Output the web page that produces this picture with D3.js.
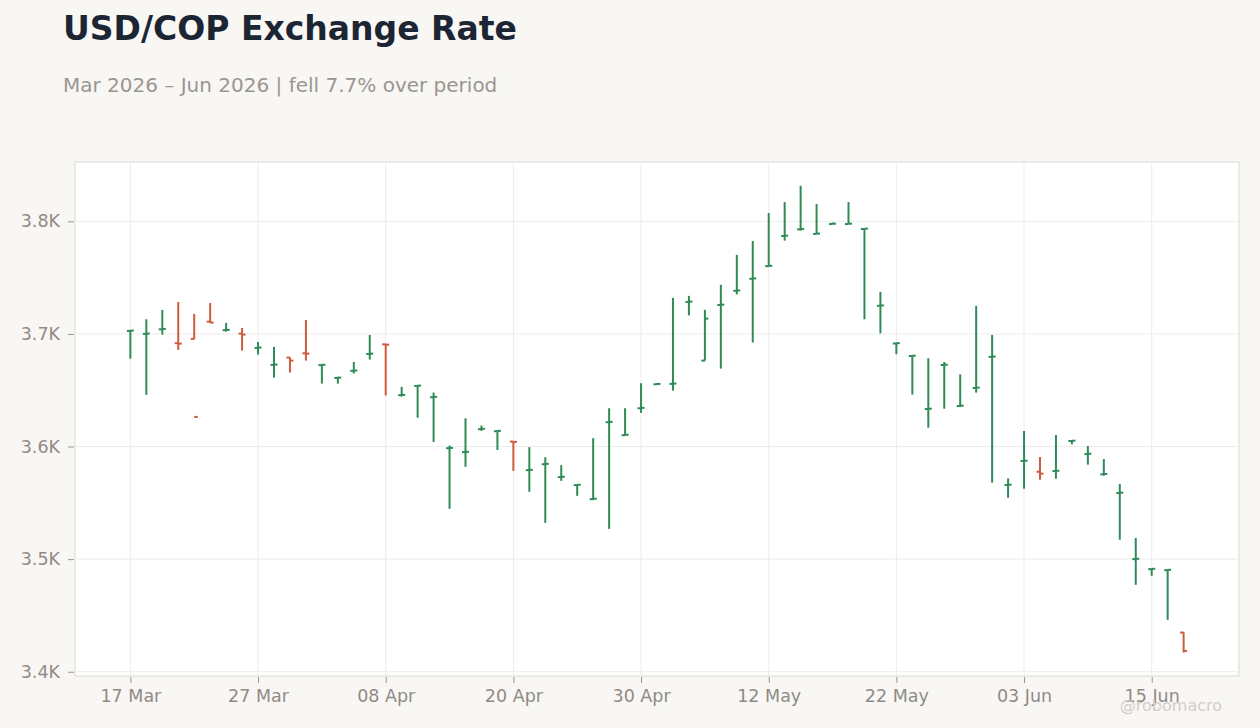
<!DOCTYPE html>
<html>
<head>
<meta charset="utf-8">
<script src="https://cdn.jsdelivr.net/npm/d3@7"></script>
<style>
  body { margin: 0; background: #f8f7f4; font-family: "DejaVu Sans", sans-serif; }
  #chart svg { display: block; }
</style>
</head>
<body>
<div id="chart"></div>
<script>
// trading days (business days, no holidays)
const dates = [
    "2026-03-17", "2026-03-18", "2026-03-19", "2026-03-20", "2026-03-23", "2026-03-24", "2026-03-25",
    "2026-03-26", "2026-03-27", "2026-03-30", "2026-03-31", "2026-04-01", "2026-04-02", "2026-04-03",
    "2026-04-06", "2026-04-07", "2026-04-08", "2026-04-09", "2026-04-10", "2026-04-13", "2026-04-14",
    "2026-04-15", "2026-04-16", "2026-04-17", "2026-04-20", "2026-04-21", "2026-04-22", "2026-04-23",
    "2026-04-24", "2026-04-27", "2026-04-28", "2026-04-29", "2026-04-30", "2026-05-01", "2026-05-04",
    "2026-05-05", "2026-05-06", "2026-05-07", "2026-05-08", "2026-05-11", "2026-05-12", "2026-05-13",
    "2026-05-14", "2026-05-15", "2026-05-18", "2026-05-19", "2026-05-20", "2026-05-21", "2026-05-22",
    "2026-05-25", "2026-05-26", "2026-05-27", "2026-05-28", "2026-05-29", "2026-06-01", "2026-06-02",
    "2026-06-03", "2026-06-04", "2026-06-05", "2026-06-08", "2026-06-09", "2026-06-10", "2026-06-11",
    "2026-06-12", "2026-06-15", "2026-06-16", "2026-06-17"
];

const open = [
    3702.7, 3700.0, 3704.1, 3691.8, 3695.6, 3710.9, 3703.3, 3700.3, 3687.6, 3672.5,
    3679.0, 3682.8, 3672.3, 3660.9, 3667.2, 3682.2, 3690.8, 3645.6, 3653.8, 3643.8,
    3598.5, 3595.0, 3615.4, 3613.6, 3604.4, 3579.0, 3584.3, 3572.8, 3565.7, 3553.3,
    3621.6, 3610.1, 3634.0, 3655.3, 3655.6, 3728.4, 3676.3, 3725.7, 3738.3, 3749.0,
    3760.2, 3787.0, 3792.9, 3788.8, 3797.6, 3797.6, 3793.2, 3725.0, 3691.5, 3680.4,
    3633.3, 3672.4, 3636.0, 3652.0, 3679.6, 3565.8, 3587.1, 3577.6, 3578.2, 3604.9,
    3593.3, 3575.3, 3558.7, 3500.0, 3491.1, 3490.2, 3434.8
];
const high = [
    3703.5, 3713.0, 3721.3, 3728.4, 3717.8, 3727.5, 3709.8, 3705.3, 3692.9, 3688.5,
    3679.2, 3712.4, 3673.0, 3662.0, 3675.1, 3699.1, 3691.1, 3653.0, 3654.3, 3647.9,
    3600.9, 3625.1, 3618.6, 3614.3, 3604.6, 3599.4, 3590.5, 3583.4, 3566.3, 3607.4,
    3634.0, 3634.0, 3656.2, 3656.1, 3732.0, 3733.8, 3721.4, 3743.6, 3770.2, 3782.6,
    3807.4, 3817.1, 3831.6, 3815.3, 3799.0, 3817.1, 3793.8, 3737.4, 3692.2, 3681.0,
    3678.4, 3675.1, 3664.1, 3724.9, 3699.1, 3571.7, 3613.8, 3590.7, 3610.2, 3605.6,
    3600.4, 3588.9, 3566.7, 3518.7, 3491.7, 3490.8, 3435.0
];
const low = [
    3678.0, 3645.9, 3699.4, 3685.8, 3695.3, 3710.0, 3702.1, 3685.2, 3681.7, 3661.2,
    3665.7, 3676.3, 3655.9, 3655.9, 3664.8, 3677.2, 3645.3, 3644.4, 3625.6, 3604.1,
    3544.7, 3582.0, 3613.9, 3597.0, 3578.4, 3559.8, 3532.2, 3569.5, 3556.2, 3552.4,
    3526.9, 3609.8, 3629.9, 3655.0, 3649.7, 3716.4, 3676.3, 3669.2, 3735.1, 3692.4,
    3760.2, 3782.9, 3791.7, 3788.8, 3797.4, 3797.6, 3713.0, 3700.5, 3682.0, 3646.1,
    3616.7, 3633.6, 3635.1, 3647.9, 3567.9, 3554.5, 3562.5, 3570.5, 3571.4, 3601.9,
    3583.9, 3574.1, 3517.2, 3477.2, 3485.2, 3446.1, 3417.0
];
const close = [
    3703.0, 3700.3, 3704.4, 3691.4, 3626.3, 3710.1, 3703.6, 3699.4, 3687.9, 3672.8,
    3676.3, 3682.5, 3672.6, 3661.2, 3667.5, 3682.5, 3690.5, 3645.9, 3654.1, 3644.1,
    3598.8, 3595.3, 3615.7, 3613.9, 3604.1, 3579.3, 3584.6, 3573.1, 3566.0, 3553.6,
    3621.9, 3610.4, 3634.3, 3655.6, 3655.9, 3728.7, 3713.6, 3726.0, 3738.6, 3749.3,
    3760.5, 3787.3, 3793.2, 3789.1, 3797.9, 3797.9, 3793.5, 3725.3, 3691.8, 3680.7,
    3633.6, 3672.7, 3636.3, 3652.3, 3679.9, 3566.1, 3587.4, 3575.9, 3578.5, 3605.2,
    3593.6, 3575.6, 3559.0, 3500.3, 3491.4, 3490.5, 3418.5
];

const yTicks = [3400, 3500, 3600, 3700, 3800];

const title = "USD/COP Exchange Rate";
const subtitle = "Mar 2026 – Jun 2026 | fell 7.7% over period";
const credit = "@robomacro";

const upColor = "#2e8b57", downColor = "#cd5c3f";

function ohlcChart() {
    const W = 1260, H = 728;
    const margin = {top: 162, right: 21, bottom: 52, left: 75},
        width = W - margin.left - margin.right,
        height = H - margin.top - margin.bottom;

    const parse = d3.timeParse("%Y-%m-%d");
    const fmt = d3.timeFormat("%d %b");
    const data = dates.map((d, i) => ({
        date: d, day: parse(d),
        open: open[i], high: high[i], low: low[i], close: close[i]
    }));

    const root = d3.select("#chart")
        .append("svg")
        .attr("width", W).attr("height", H);

    root.append("rect").attr("width", W).attr("height", H).attr("fill", "#f8f7f4");

    root.append("text")
        .attr("x", 63).attr("y", 40)
        .attr("font-size", 33).attr("font-weight", "bold")
        .attr("fill", "#1c2533")
        .text(title);
    root.append("text")
        .attr("x", 63).attr("y", 92)
        .attr("font-size", 20)
        .attr("fill", "#9a9691")
        .text(subtitle);

    const svg = root.append("g")
        .attr("transform", `translate(${margin.left},${margin.top})`);

    svg.append("rect")
        .attr("width", width).attr("height", height)
        .attr("fill", "#ffffff")
        .attr("stroke", "#ddd9d2").attr("stroke-width", 1);

    const x = d3.scalePoint()
        .domain(data.map(d => d.date))
        .range([0, width])
        .padding(3.47);

    const y = d3.scaleLinear()
        .domain([3396.2, 3852.7])
        .range([height, 0]);

    const xTicks = dates.filter((d, i) => i % 8 === 0);

    // grid
    svg.append("g")
        .selectAll("line.hg")
        .data(yTicks)
        .join("line")
        .attr("x1", 0).attr("x2", width)
        .attr("y1", d => y(d)).attr("y2", d => y(d))
        .attr("stroke", "#ececec").attr("stroke-width", 1);
    svg.append("g")
        .selectAll("line.vg")
        .data(xTicks)
        .join("line")
        .attr("x1", d => x(d)).attr("x2", d => x(d))
        .attr("y1", 0).attr("y2", height)
        .attr("stroke", "#ececec").attr("stroke-width", 1);

    // axes
    const xAxis = svg.append("g")
        .attr("transform", `translate(0, ${height + 1})`)
        .call(d3.axisBottom(x).tickValues(xTicks).tickSize(6).tickPadding(7)
            .tickFormat(d => fmt(parse(d))));
    const yAxis = svg.append("g")
        .attr("transform", "translate(-1,0)")
        .call(d3.axisLeft(y).tickValues(yTicks).tickSize(6).tickPadding(8)
            .tickFormat(d => d3.format(".1f")(d / 1000) + "K"));

    [xAxis, yAxis].forEach(a => {
        a.select(".domain").remove();
        a.selectAll(".tick line").attr("stroke", "#9a9691");
        a.selectAll(".tick text")
            .attr("fill", "#8f8b86")
            .attr("font-size", 17.5)
            .attr("font-family", "DejaVu Sans, sans-serif");
    });

    // OHLC bars
    const tw = 3.5;
    const bars = svg.append("g")
        .selectAll("g.bar")
        .data(data)
        .join("g")
        .attr("stroke", d => d.close >= d.open ? upColor : downColor)
        .attr("stroke-width", 2);
    bars.append("line")
        .attr("x1", d => x(d.date)).attr("x2", d => x(d.date))
        .attr("y1", d => y(d.high)).attr("y2", d => y(d.low));
    bars.append("line")
        .attr("x1", d => x(d.date) - tw).attr("x2", d => x(d.date))
        .attr("y1", d => y(d.open)).attr("y2", d => y(d.open));
    bars.append("line")
        .attr("x1", d => x(d.date)).attr("x2", d => x(d.date) + tw)
        .attr("y1", d => y(d.close)).attr("y2", d => y(d.close));

    root.append("text")
        .attr("x", 1222).attr("y", 711)
        .attr("text-anchor", "end")
        .attr("font-size", 16)
        .attr("fill", "#d2cec9")
        .text(credit);

    root.node();
}

ohlcChart();
</script>
</body>
</html>
